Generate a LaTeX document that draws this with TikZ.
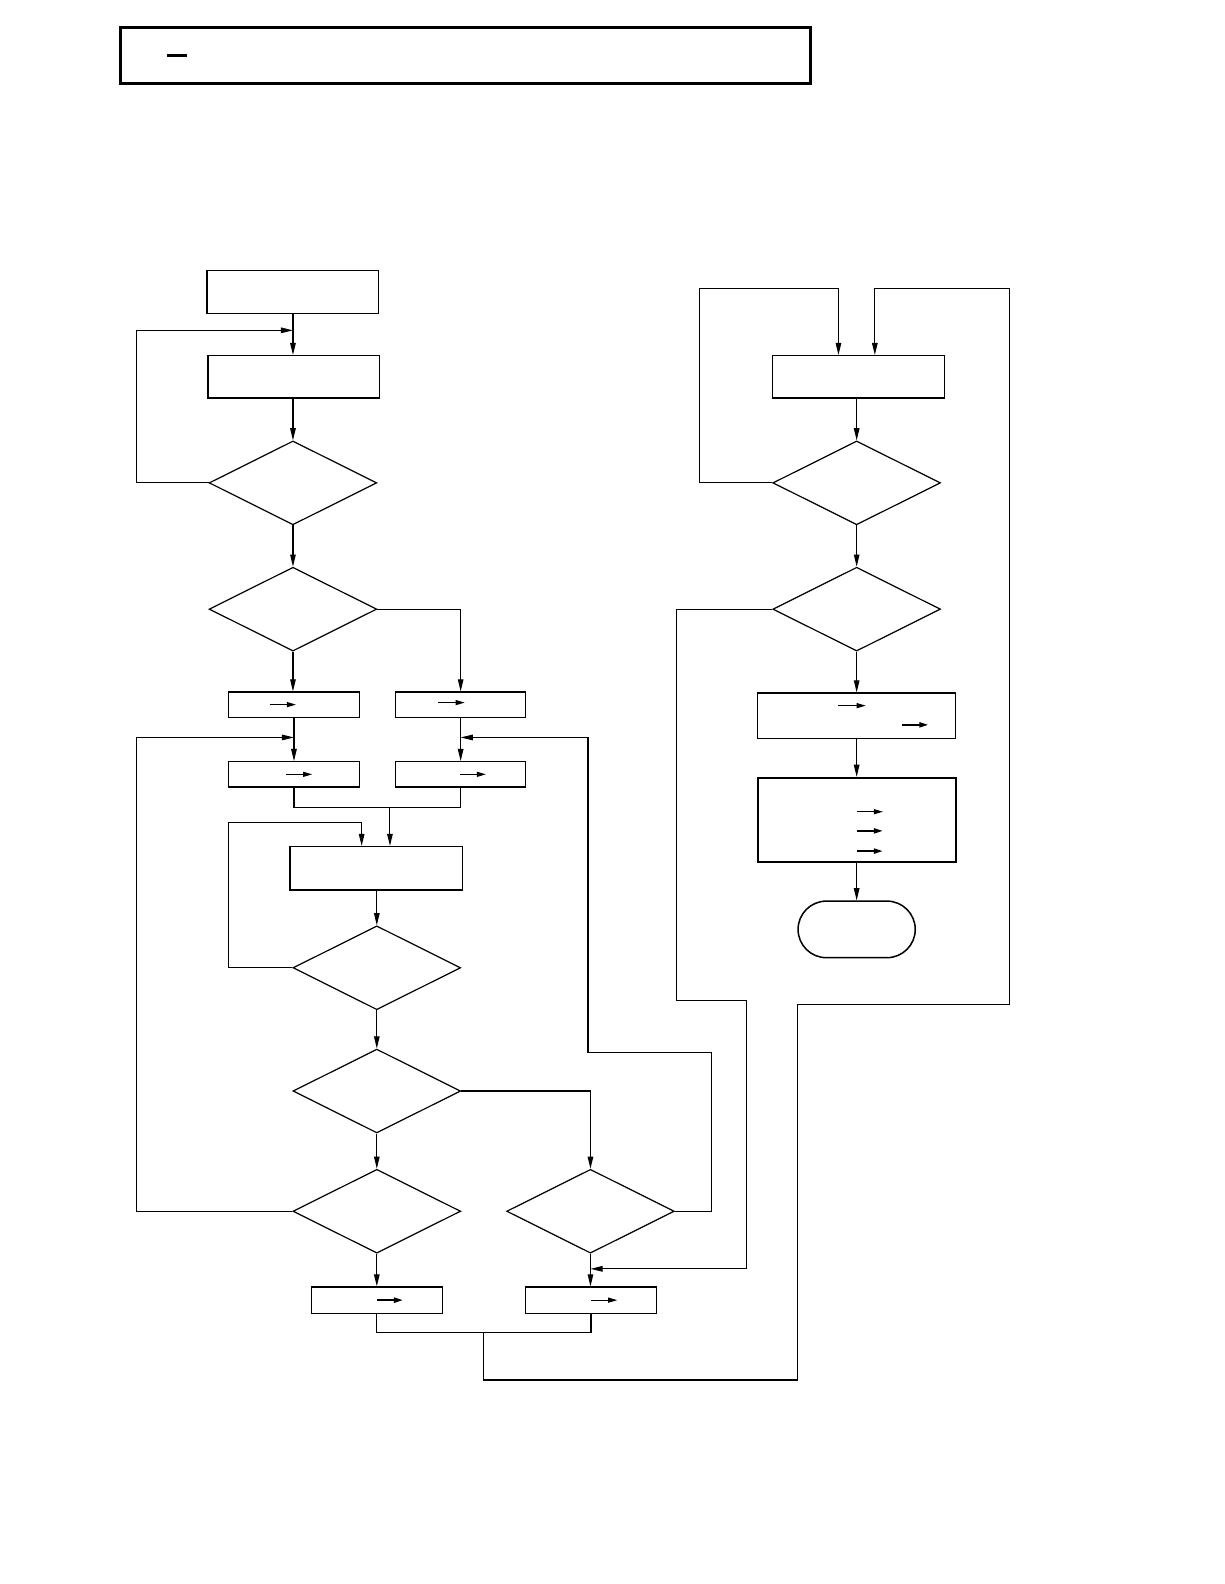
\documentclass[tikz,border=0pt]{standalone}
\usetikzlibrary{arrows.meta,shapes.geometric}
\begin{document}
\begin{tikzpicture}[x=1pt,y=-1pt,
  line width=1.2pt,
  box/.style={draw,rectangle,inner sep=0pt},
  dia/.style={draw,diamond,inner sep=0pt,minimum width=166pt,minimum height=83pt},
  arr/.style={-{Triangle[length=12pt,width=5.5pt]}},
  conn/.style={line width=1.1pt},
  inarr/.style={line width=1pt,-{Triangle[length=9pt,width=5pt]}},
  inarrb/.style={line width=2pt,-{Triangle[length=9pt,width=5pt]}}]
\useasboundingbox (0,0) rectangle (1212,1568);
% title box
\node[box,line width=3pt,minimum width=683pt,minimum height=56pt] (title) at (460.5,55) {};
\draw[line width=3pt] ([xshift=48pt]title.west) -- ++(20,0);
% left column
\node[box,minimum width=170pt,minimum height=42pt] (A) at (290,289) {};
\node[box,minimum width=170pt,minimum height=42pt] (B) at (291,373) {};
\node[dia] (D1) at (290,478) {};
\node[dia] (D2) at (290,603) {};
\node[box,minimum width=129pt,minimum height=25pt] (L1) at (291,697.5) {};
\node[box,minimum width=129pt,minimum height=25pt] (R1) at (456,697.5) {};
\node[box,minimum width=129pt,minimum height=25pt] (L2) at (291,766.5) {};
\node[box,minimum width=129pt,minimum height=25pt] (R2) at (456,766.5) {};
\node[box,minimum width=171pt,minimum height=43pt] (C) at (372.5,859.5) {};
\node[dia] (D3) at (373,958) {};
\node[dia] (D4) at (373,1080) {};
\node[dia] (D5) at (373,1199) {};
\node[dia] (D6) at (584.5,1199) {};
\node[box,minimum width=130pt,minimum height=26pt] (L3) at (373,1287) {};
\node[box,minimum width=130pt,minimum height=26pt] (R3) at (585,1287) {};
% right column
\node[box,minimum width=170pt,minimum height=42pt] (E) at (850,373) {};
\node[dia] (D7) at (848,478) {};
\node[dia] (D8) at (848,603) {};
\node[box,minimum width=196pt,minimum height=45pt] (F) at (848,708.5) {};
\node[box,line width=2pt,minimum width=196pt,minimum height=83pt] (G) at (848,811.5) {};
\node[draw,rectangle,rounded corners=28pt,line width=1.5pt,minimum width=116pt,minimum height=56pt] (T) at (848,920) {};
% inner arrows
\draw[inarr] (L1.center) ++(-24,0) -- ++(26,0);
\draw[inarr] (R1.center) ++(-22,-2) -- ++(26,0);
\draw[inarr] (L2.center) ++(-8,0) -- ++(26,0);
\draw[inarr] (R2.center) ++(-1,0) -- ++(26,0);
\draw[inarrb] (L3.center) ++(0,0) -- ++(26,0);
\draw[inarr] (R3.center) ++(0,0) -- ++(26,0);
\draw[inarr] (F.center) ++(-18,-10) -- ++(27,0);
\draw[inarrb] (F.center) ++(45,9) -- ++(26,0);
\draw[inarr] (G.center) ++(0,-8) -- ++(26,0);
\draw[inarrb] (G.center) ++(0,11) -- ++(26,0);
\draw[inarrb] (G.center) ++(0,31) -- ++(26,0);
% junction coordinates
\coordinate (jAB) at (290,327);
\coordinate (jL) at (291,730);
\coordinate (jR) at (456,730);
\coordinate (m1) at (291,799);
\coordinate (m2) at (386,799);
\coordinate (jC) at (358,814);
\coordinate (jR3) at (584.5,1256);
\coordinate (b1) at (373,1319);
\coordinate (b2) at (479,1319);
\coordinate (jE1) at (830,286);
\coordinate (jE2) at (866,286);
% connectors left
\draw[conn,arr] (A.south -| jAB) -- (B.north -| jAB);
\draw[conn,arr] (D1.west) -- (135,478) |- (jAB);
\draw[conn,arr] (B.south -| D1.north) -- (D1.north);
\draw[conn,arr] (D1.south) -- (D2.north);
\draw[conn,arr] (D2.east) -| (R1.north);
\draw[conn,arr] (D2.south) -- (D2.south |- L1.north);
\draw[conn,arr] (L1.south) -- (L2.north);
\draw[conn,arr] (D5.west) -- (135,1199) |- (jL);
\draw[conn,arr] (R1.south) -- (R2.north);
\draw[conn,arr] (D6.east) -| (704,1042) -| (582,730) -- (jR);
\draw[conn] (L2.south) -- (m1) -| (R2.south);
\draw[conn,arr] (m2) -- (m2 |- C.north);
\draw[conn,arr] (D3.west) -- (226,958) |- (jC) -- (jC |- C.north);
\draw[conn,arr] (C.south -| D3.north) -- (D3.north);
\draw[conn,arr] (D3.south) -- (D4.north);
\draw[conn,arr] (D4.east) -| (D6.north);
\draw[conn,arr] (D4.south) -- (D5.north);
\draw[conn,arr] (D5.south) -- (L3.north);
\draw[conn,arr] (D6.south) -- (D6.south |- R3.north);
\draw[conn,arr] (D8.west) -| (670,990) -| (739,1256) -- (jR3);
\draw[conn] (L3.south) -- (b1) -| (R3.south);
\draw[conn,arr] (b2) -- (479,1366) -| (789,994) -| (999,286) -- (jE2) -- (jE2 |- E.north);
% right column connectors
\draw[conn,arr] (D7.west) -- (692,478) |- (jE1) -- (jE1 |- E.north);
\draw[conn,arr] (E.south -| D7.north) -- (D7.north);
\draw[conn,arr] (D7.south) -- (D8.north);
\draw[conn,arr] (D8.south) -- (F.north);
\draw[conn,arr] (F.south) -- (G.north);
\draw[conn,arr] (G.south) -- (T.north);
\end{tikzpicture}
\end{document}
